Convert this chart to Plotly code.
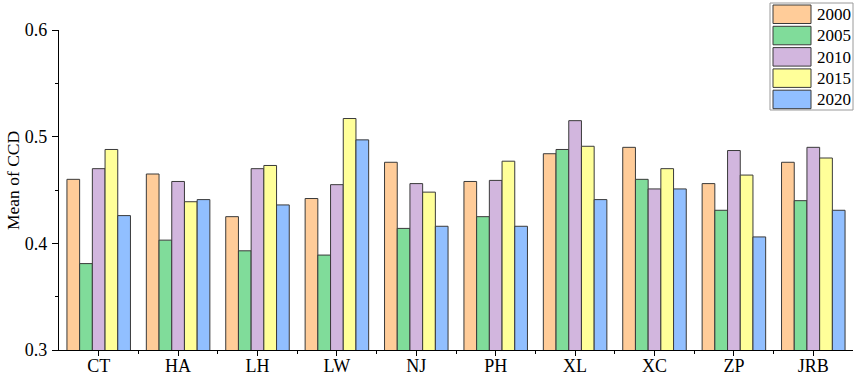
import plotly.graph_objects as go

categories = ["CT", "HA", "LH", "LW", "NJ", "PH", "XL", "XC", "ZP", "JRB"]
years = ["2000", "2005", "2010", "2015", "2020"]
v2000 = [0.460, 0.465, 0.425, 0.442, 0.476, 0.458, 0.484, 0.490, 0.456, 0.476]
v2005 = [0.381, 0.403, 0.393, 0.389, 0.414, 0.425, 0.488, 0.460, 0.431, 0.440]
v2010 = [0.470, 0.458, 0.470, 0.455, 0.456, 0.459, 0.515, 0.451, 0.487, 0.490]
v2015 = [0.488, 0.439, 0.473, 0.517, 0.448, 0.477, 0.491, 0.470, 0.464, 0.480]
v2020 = [0.426, 0.441, 0.436, 0.497, 0.416, 0.416, 0.441, 0.451, 0.406, 0.431]
series = [v2000, v2005, v2010, v2015, v2020]
colors = ["#FFCC99", "#80DC9A", "#D2B6DE", "#FFFF99", "#91BFFF"]
y_ticks = [0.3, 0.4, 0.5, 0.6]
y_title = "Mean of CCD"

FONT = "Liberation Serif, Times New Roman, serif"
xpos = list(range(len(categories)))

fig = go.Figure()
for name, vals, col in zip(years, series, colors):
    fig.add_trace(go.Bar(
        x=xpos, y=vals, name=name, marker_color=col,
        marker_line=dict(color="#3a3a3a", width=1), showlegend=False,
    ))

# custom legend (box + swatches + labels)
W, H = 858, 378
L, R, T, B = 59, 5, 30, 28
pw, ph = W - L - R, H - T - B
def px(x): return (x - L) / pw
def py(y): return (H - B - y) / ph

shapes = [dict(type="rect", xref="paper", yref="paper",
               x0=px(770), x1=px(853), y0=py(110), y1=py(3),
               line=dict(color="#9a9a9a", width=1), fillcolor="white", layer="above")]
annotations = []
for i, (name, col) in enumerate(zip(years, colors)):
    top = 5 + i * 21.3
    shapes.append(dict(type="rect", xref="paper", yref="paper",
                       x0=px(773), x1=px(811), y0=py(top + 18.5), y1=py(top),
                       line=dict(color="#3a3a3a", width=1), fillcolor=col, layer="above"))
    annotations.append(dict(xref="paper", yref="paper", x=px(815), y=py(top + 9.5),
                            text=name, showarrow=False, xanchor="left", yanchor="middle",
                            font=dict(family=FONT, size=17, color="black")))
annotations.append(dict(xref="paper", yref="paper", x=px(13), y=py(181),
                        text=y_title, textangle=-90, showarrow=False,
                        xanchor="center", yanchor="middle",
                        font=dict(family=FONT, size=17.5, color="black")))

fig.update_layout(
    width=W, height=H,
    margin=dict(l=L, r=R, t=T, b=B, autoexpand=False),
    paper_bgcolor="white", plot_bgcolor="white",
    barmode="group", bargap=0.2, bargroupgap=0,
    font=dict(family=FONT, size=17, color="black"),
    shapes=shapes, annotations=annotations,
    showlegend=False,
)
fig.update_xaxes(
    range=[-0.5, len(categories) - 0.5],
    tickvals=xpos, ticktext=categories, automargin=False,
    showline=True, linecolor="black", linewidth=1.3,
    ticks="outside", ticklen=5, tickwidth=1.3, tickcolor="black",
    ticklabelstandoff=-6,
    minor=dict(tickvals=[i + 0.5 for i in range(len(categories) - 1)],
               ticks="outside", ticklen=3, tickwidth=1.3, tickcolor="black"),
    showgrid=False, zeroline=False,
    tickfont=dict(family=FONT, size=18),
)
fig.update_yaxes(
    range=[0.3, 0.6], tickvals=y_ticks, ticktext=[f"{t:.1f}" for t in y_ticks],
    automargin=False,
    showline=True, linecolor="black", linewidth=1.3,
    ticks="outside", ticklen=6, tickwidth=1.3, tickcolor="black",
    ticklabelstandoff=1,
    minor=dict(dtick=0.05, ticks="outside", ticklen=3, tickwidth=1.3, tickcolor="black"),
    showgrid=False, zeroline=False,
    tickfont=dict(family=FONT, size=18),
)
fig.write_html("out.html", config={"displayModeBar": False},
               post_script="document.body.style.margin='0';document.body.style.overflow='hidden';")
